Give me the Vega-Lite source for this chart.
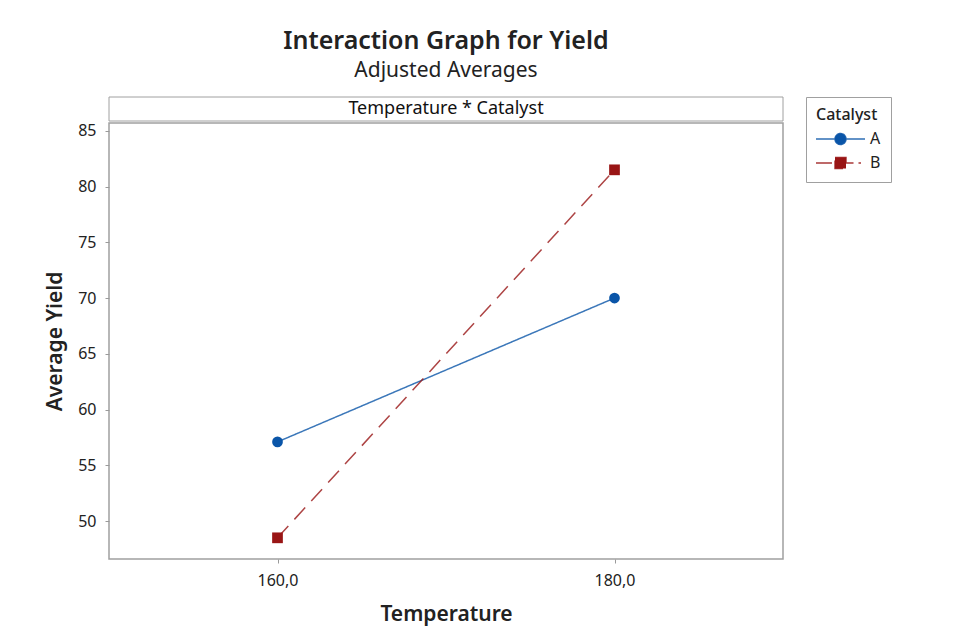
{
  "$schema": "https://vega.github.io/schema/vega-lite/v6.json",
  "padding": {"left": 43, "top": 28, "right": 10, "bottom": 10},
  "background": "white",
  "title": {
    "text": "Interaction Graph for Yield",
    "subtitle": "Adjusted Averages",
    "font": "Noto Sans",
    "fontSize": 25,
    "fontWeight": 600,
    "color": "#222222",
    "subtitleFont": "Noto Sans",
    "subtitleFontSize": 21,
    "subtitleColor": "#222222",
    "subtitlePadding": 6,
    "anchor": "middle",
    "frame": "group",
    "offset": 16
  },
  "config": {
    "view": {"stroke": "#a0a0a0", "strokeWidth": 1.5},
    "concat": {"spacing": 0},
    "axis": {
      "domain": false,
      "grid": false,
      "tickColor": "#9a9a9a",
      "tickSize": 4,
      "labelFont": "Noto Sans",
      "labelFontSize": 16,
      "labelColor": "#222222",
      "titleFont": "Noto Sans",
      "titleFontSize": 21,
      "titleFontWeight": 600,
      "titleColor": "#222222"
    },
    "legend": {
      "orient": "right",
      "offset": 22,
      "padding": 10,
      "strokeColor": "#a0a0a0",
      "titleFont": "Noto Sans",
      "titleFontSize": 16,
      "titleFontWeight": 500,
      "titleColor": "#222222",
      "titlePadding": 8,
      "labelFont": "Noto Sans",
      "labelFontSize": 16,
      "labelColor": "#222222",
      "labelOffset": 38,
      "symbolSize": 100,
      "rowPadding": 6
    }
  },
  "vconcat": [
    {
      "width": 674,
      "height": 24,
      "data": {"values": [{"panel": "Temperature * Catalyst"}]},
      "layer": [
        {
          "mark": {"type": "rect", "fill": "white", "stroke": "#a0a0a0", "strokeWidth": 1},
          "encoding": {}
        },
        {
          "mark": {"type": "text", "font": "Noto Sans", "fontSize": 18, "color": "#111111"},
          "encoding": {"text": {"field": "panel", "type": "nominal"}}
        }
      ]
    },
    {
      "width": 674,
      "height": 436,
      "data": {
        "values": [
          {"Temperature": 160, "Catalyst": "A", "Yield": 57.1},
          {"Temperature": 180, "Catalyst": "A", "Yield": 70.0},
          {"Temperature": 160, "Catalyst": "B", "Yield": 48.5},
          {"Temperature": 180, "Catalyst": "B", "Yield": 81.5}
        ]
      },
      "encoding": {
        "x": {
          "field": "Temperature",
          "type": "quantitative",
          "scale": {"domain": [150, 190], "nice": false, "zero": false},
          "axis": {
            "title": "Temperature",
            "values": [160, 180],
            "labelExpr": "replace(format(datum.value, '.1f'), '.', ',')",
            "labelPadding": 9,
            "titlePadding": 15
          }
        },
        "y": {
          "field": "Yield",
          "type": "quantitative",
          "scale": {"domain": [46.6, 85.7], "nice": false, "zero": false},
          "axis": {
            "title": "Average Yield",
            "values": [50, 55, 60, 65, 70, 75, 80, 85],
            "labelPadding": 9,
            "titlePadding": 12
          }
        },
        "color": {
          "field": "Catalyst",
          "type": "nominal",
          "scale": {"domain": ["A", "B"], "range": ["#0A55A8", "#991515"]},
          "legend": {
            "title": "Catalyst",
            "encode": {
              "symbols": {
                "update": {
                  "shape": {"signal": "datum.value === 'A' ? 'M-1.6,0H8.2M4.4,0A1.1,1.1,0,1,1,2.2,0A1.1,1.1,0,1,1,4.4,0Z' : 'M-1.6,0H2.2M4.4,0H5.9M6.9,0H7.4M2.2,-1.1H4.4V1.1H2.2Z'"},
                  "strokeWidth": {"value": 1.5},
                  "strokeDash": {"value": [1, 0]},
                  "opacity": {"value": 1},
                  "fillOpacity": {"value": 1},
                  "strokeOpacity": {"value": 0.85}
                }
              }
            }
          }
        }
      },
      "layer": [
        {
          "mark": {"type": "line", "strokeWidth": 1.5, "strokeOpacity": 0.8},
          "encoding": {
            "strokeDash": {
              "field": "Catalyst",
              "type": "nominal",
              "scale": {"domain": ["A", "B"], "range": [[1, 0], [16, 9]]},
              "legend": null
            }
          }
        },
        {
          "transform": [{"filter": "datum.Catalyst === 'A'"}],
          "mark": {"type": "point", "shape": "circle", "filled": true, "opacity": 1, "size": 115, "strokeWidth": 0}
        },
        {
          "transform": [{"filter": "datum.Catalyst === 'B'"}],
          "mark": {"type": "point", "shape": "square", "filled": true, "opacity": 1, "size": 115, "strokeWidth": 0}
        }
      ]
    }
  ]
}
